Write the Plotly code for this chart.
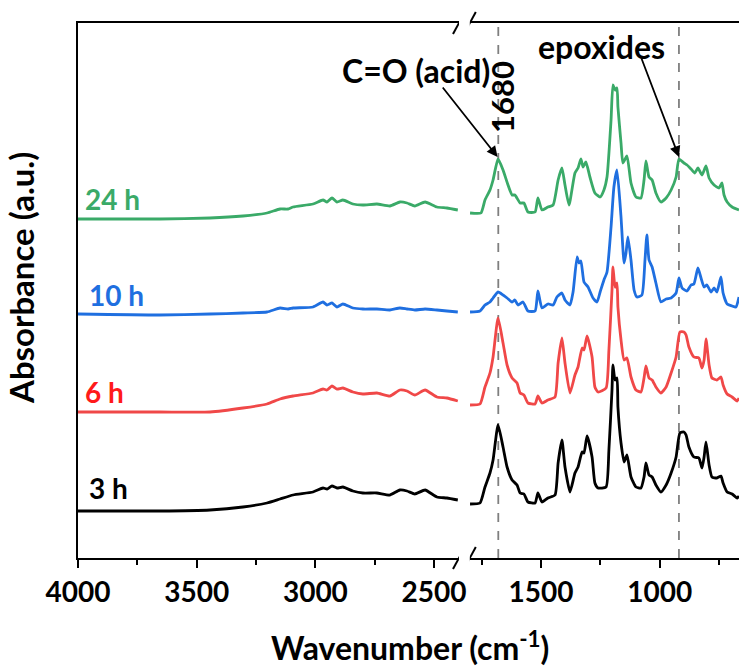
import plotly.graph_objects as go

# ---------------- data ----------------
series_names = ["3 h", "6 h", "10 h", "24 h"]
line_colors = ["#000000", "#f04848", "#1f6fe0", "#3aaa68"]
label_colors = ["#000000", "#ff1a1a", "#1f6fe0", "#3aaa68"]
offsets = [0.0, 0.98, 1.96, 2.91]

# high-wavenumber segment (4000-2400 cm-1)
wn_left = [4000, 3655, 3444, 3305, 3204, 3149, 3094, 3010, 2968, 2951, 2930,
           2909, 2884, 2842, 2800, 2741, 2686, 2644, 2614, 2581, 2538, 2488, 2446, 2400]
abs_left_3h = [0.47, 0.47, 0.48, 0.51, 0.55, 0.59, 0.63, 0.66, 0.70, 0.69, 0.72,
               0.70, 0.71, 0.67, 0.65, 0.65, 0.63, 0.68, 0.67, 0.64, 0.68, 0.61, 0.60, 0.58]
abs_left_6h = [0.48, 0.48, 0.48, 0.52, 0.56, 0.61, 0.64, 0.67, 0.71, 0.70, 0.74,
               0.71, 0.72, 0.68, 0.66, 0.67, 0.64, 0.70, 0.69, 0.65, 0.70, 0.63, 0.62, 0.59]
wn_left_b = [4000, 3655, 3444, 3305, 3204, 3149, 3115, 3094, 3010, 2968, 2951, 2930,
             2909, 2884, 2842, 2800, 2741, 2686, 2644, 2614, 2581, 2538, 2488, 2446, 2400]
abs_left_10h = [0.48, 0.47, 0.48, 0.49, 0.50, 0.54, 0.53, 0.54, 0.55, 0.60, 0.57, 0.59,
                0.55, 0.58, 0.54, 0.53, 0.53, 0.52, 0.54, 0.53, 0.52, 0.53, 0.52, 0.51, 0.50]
abs_left_24h = [0.48, 0.48, 0.49, 0.51, 0.54, 0.58, 0.58, 0.60, 0.63, 0.67, 0.65, 0.69,
                0.65, 0.67, 0.63, 0.62, 0.63, 0.61, 0.65, 0.64, 0.61, 0.65, 0.60, 0.59, 0.57]

# fingerprint segment (1800-666 cm-1)
wn_right = [1799, 1757, 1736, 1715, 1702, 1681, 1660, 1643, 1622, 1601, 1588, 1572,
            1555, 1525, 1513, 1496, 1471, 1441, 1428, 1412, 1399, 1378, 1357, 1344,
            1327, 1319, 1306, 1285, 1273, 1260, 1226, 1214, 1201, 1197, 1188, 1180,
            1176, 1163, 1150, 1138, 1121, 1100, 1079, 1066, 1058, 1045, 1032, 1016,
            995, 973, 952, 931, 915, 898, 889, 877, 856, 835, 822, 813, 805, 792,
            780, 759, 742, 733, 716, 695, 674, 666]
abs_right_3h = [0.54, 0.55, 0.71, 0.85, 0.98, 1.33, 1.11, 0.91, 0.78, 0.73, 0.65, 0.64,
                0.56, 0.55, 0.65, 0.56, 0.60, 0.63, 0.95, 1.18, 0.91, 0.66, 0.85, 0.91,
                1.06, 1.05, 1.22, 1.01, 0.75, 0.70, 0.71, 1.08, 1.68, 1.93, 1.78, 1.80,
                1.51, 1.15, 0.96, 1.03, 0.81, 0.71, 0.70, 0.81, 0.95, 0.83, 0.81, 0.73,
                0.66, 0.73, 0.85, 1.01, 1.25, 1.26, 1.23, 1.11, 1.01, 1.00, 0.90, 1.01,
                1.16, 0.93, 0.81, 0.80, 0.82, 0.75, 0.66, 0.64, 0.60, 0.62]
abs_right_6h = [0.55, 0.56, 0.73, 0.87, 1.03, 1.42, 1.17, 0.95, 0.82, 0.77, 0.67, 0.65,
                0.57, 0.56, 0.64, 0.57, 0.60, 0.63, 0.97, 1.22, 0.97, 0.67, 0.85, 0.93,
                1.12, 1.10, 1.24, 1.03, 0.73, 0.68, 0.72, 1.10, 1.70, 1.93, 1.73, 1.77,
                1.53, 1.20, 1.00, 1.02, 0.83, 0.70, 0.68, 0.82, 0.94, 0.82, 0.80, 0.73,
                0.67, 0.73, 0.87, 1.03, 1.28, 1.28, 1.25, 1.13, 1.03, 1.02, 0.92, 1.00,
                1.21, 0.95, 0.82, 0.80, 0.83, 0.75, 0.66, 0.63, 0.59, 0.62]
wn_right_10h = [1799, 1757, 1736, 1715, 1702, 1681, 1660, 1643, 1622, 1610, 1597, 1576,
                1555, 1525, 1513, 1496, 1471, 1449, 1433, 1412, 1399, 1378, 1365, 1348,
                1340, 1332, 1319, 1302, 1281, 1264, 1251, 1235, 1222, 1205, 1193, 1180,
                1163, 1150, 1142, 1134, 1121, 1108, 1096, 1075, 1062, 1054, 1045, 1032,
                1016, 995, 973, 952, 931, 919, 906, 885, 868, 856, 839, 826, 813, 801,
                784, 771, 759, 742, 733, 716, 695, 679, 666]
abs_right_10h = [0.50, 0.51, 0.57, 0.60, 0.64, 0.70, 0.67, 0.64, 0.60, 0.62, 0.57, 0.60,
                 0.51, 0.51, 0.71, 0.54, 0.58, 0.57, 0.65, 0.69, 0.62, 0.57, 0.70, 1.05,
                 0.99, 1.01, 0.80, 0.75, 0.64, 0.60, 0.70, 0.82, 0.90, 1.35, 1.75, 1.92,
                 1.45, 0.99, 1.09, 1.25, 1.02, 0.72, 0.65, 0.67, 1.02, 1.27, 1.02, 0.95,
                 0.79, 0.60, 0.63, 0.64, 0.69, 0.84, 0.74, 0.71, 0.77, 0.78, 0.94, 0.84,
                 0.75, 0.77, 0.70, 0.74, 0.70, 0.85, 0.69, 0.58, 0.56, 0.55, 0.65]
wn_right_24h = [1799, 1753, 1736, 1715, 1702, 1681, 1660, 1639, 1622, 1610, 1588, 1572,
                1555, 1525, 1513, 1496, 1471, 1449, 1428, 1412, 1399, 1382, 1357, 1344,
                1332, 1323, 1311, 1294, 1273, 1251, 1235, 1222, 1205, 1197, 1188, 1180,
                1176, 1163, 1155, 1138, 1121, 1100, 1079, 1066, 1058, 1045, 1032, 1016,
                995, 973, 952, 931, 919, 898, 885, 868, 852, 839, 822, 805, 792, 771,
                750, 738, 729, 716, 695, 666]
abs_right_24h = [0.54, 0.54, 0.67, 0.77, 0.87, 1.08, 0.97, 0.82, 0.72, 0.72, 0.64, 0.64,
                 0.55, 0.55, 0.69, 0.57, 0.60, 0.62, 0.87, 0.99, 0.82, 0.62, 0.94, 0.99,
                 1.08, 1.00, 1.05, 0.90, 0.74, 0.70, 0.77, 0.90, 1.47, 1.82, 1.77, 1.79,
                 1.60, 1.24, 1.04, 1.11, 0.84, 0.70, 0.69, 0.87, 1.06, 0.90, 0.87, 0.74,
                 0.65, 0.69, 0.77, 0.90, 1.08, 1.04, 1.02, 0.98, 0.94, 0.99, 0.92, 1.01,
                 0.89, 0.82, 0.79, 0.84, 0.72, 0.65, 0.60, 0.57]

left_x = [wn_left, wn_left, wn_left_b, wn_left_b]
left_y = [abs_left_3h, abs_left_6h, abs_left_10h, abs_left_24h]
right_x = [wn_right, wn_right, wn_right_10h, wn_right_24h]
right_y = [abs_right_3h, abs_right_6h, abs_right_10h, abs_right_24h]

left_range = [4000, 2395]
right_range = [1800, 666]
left_ticks = [4000, 3500, 3000, 2500]
right_ticks = [1500, 1000]
marker_lines = [1680, 919]

FONT = "Lato, 'Open Sans', sans-serif"

W, H = 739, 669
ml, mr, mt, mb = 78, 0, 23, 111
pw = W - ml - mr
ph = H - mt - mb


def px(xpix):
    return (xpix - ml) / pw


def py(ypix):
    return (H - mb - ypix) / ph


fig = go.Figure()
for i, name in enumerate(series_names):
    off = offsets[i]
    fig.add_trace(go.Scatter(x=left_x[i], y=[v + off for v in left_y[i]],
                             xaxis="x", yaxis="y", mode="lines", name=name,
                             line=dict(color=line_colors[i], width=2.8, shape="spline", smoothing=0.5),
                             showlegend=False))
    fig.add_trace(go.Scatter(x=right_x[i], y=[v + off for v in right_y[i]],
                             xaxis="x2", yaxis="y", mode="lines", name=name,
                             line=dict(color=line_colors[i], width=2.8, shape="spline", smoothing=0.5),
                             showlegend=False))

axis_common = dict(showline=True, linecolor="black", linewidth=2, mirror=True,
                   showgrid=False, zeroline=False, ticks="outside", ticklen=8,
                   tickwidth=2, tickcolor="black", automargin=False,
                   tickfont=dict(family=FONT, size=28, color="black", weight="bold"),
                   minor=dict(ticks="outside", ticklen=5, tickwidth=2, tickcolor="black"))

d1 = 381 / pw
d2 = 391.8 / pw

fig.update_layout(
    width=W, height=H, margin=dict(l=ml, r=mr, t=mt, b=mb),
    paper_bgcolor="white", plot_bgcolor="white",
    xaxis=dict(domain=[0, d1], range=left_range, tickvals=left_ticks,
               minor_tickvals=[3750, 3250, 2750], anchor="y", **axis_common),
    xaxis2=dict(domain=[d2, 1], range=right_range, tickvals=right_ticks,
                minor_tickvals=[1750, 1250, 750], anchor="y", **axis_common),
    yaxis=dict(range=[0, 5.35], showline=True, linecolor="black", linewidth=2,
               showticklabels=False, ticks="", showgrid=False, zeroline=False,
               automargin=False),
)

# dashed reference lines
for wn in marker_lines:
    fig.add_shape(type="line", xref="x2", yref="paper", x0=wn, x1=wn, y0=0, y1=1,
                  line=dict(color="#7f7f7f", width=1.8, dash="dash"), layer="below")

# axis break marks
for xr, anchor_x in (("x", left_range[1]), ("x2", right_range[0])):
    for ya in (0, 1):
        fig.add_shape(type="line", xref=xr, xsizemode="pixel", xanchor=anchor_x,
                      x0=-6, x1=6, yref="paper", ysizemode="pixel", yanchor=ya,
                      y0=-11, y1=11, line=dict(color="black", width=2))

# arrows pointing at the peaks
fig.add_annotation(x=1683, y=4.01, xref="x2", yref="y", text="", showarrow=True,
                   ax=-56, ay=-71, arrowhead=2, arrowsize=1.2, arrowwidth=1.8,
                   arrowcolor="black")
fig.add_annotation(x=919, y=4.01, xref="x2", yref="y", text="", showarrow=True,
                   ax=-38, ay=-100, arrowhead=2, arrowsize=1.2, arrowwidth=1.8,
                   arrowcolor="black")

# series labels
label_pos = [(3962, 0.70), (3979, 1.66), (3962, 2.63), (3979, 3.59)]
for i, name in enumerate(series_names):
    fig.add_annotation(x=label_pos[i][0], y=label_pos[i][1], xref="x", yref="y",
                       text=name, showarrow=False, xanchor="left", yanchor="middle",
                       font=dict(family=FONT, size=28, color=label_colors[i], weight="bold"))

TXT = dict(xref="paper", yref="paper", showarrow=False, xanchor="center", yanchor="middle")
fig.add_annotation(x=px(416), y=py(70), text="C=O (acid)",
                   font=dict(family=FONT, size=32, color="black", weight="bold"), **TXT)
fig.add_annotation(x=px(502), y=py(97), text="1680", textangle=-90,
                   font=dict(family=FONT, size=31, color="black", weight="bold"), **TXT)
fig.add_annotation(x=px(601), y=py(47), text="epoxides",
                   font=dict(family=FONT, size=32, color="black", weight="bold"), **TXT)

# axis titles
fig.add_annotation(x=px(410), y=py(646), text="Wavenumber (cm<sup>-1</sup>)",
                   font=dict(family=FONT, size=32, color="black", weight="bold"), **TXT)
fig.add_annotation(x=px(21), y=py(278), text="Absorbance (a.u.)", textangle=-90,
                   font=dict(family=FONT, size=33, color="black", weight="bold"), **TXT)

fig.write_html("out.html", config={"displayModeBar": False},
               post_script="document.body.style.margin='0px';")
